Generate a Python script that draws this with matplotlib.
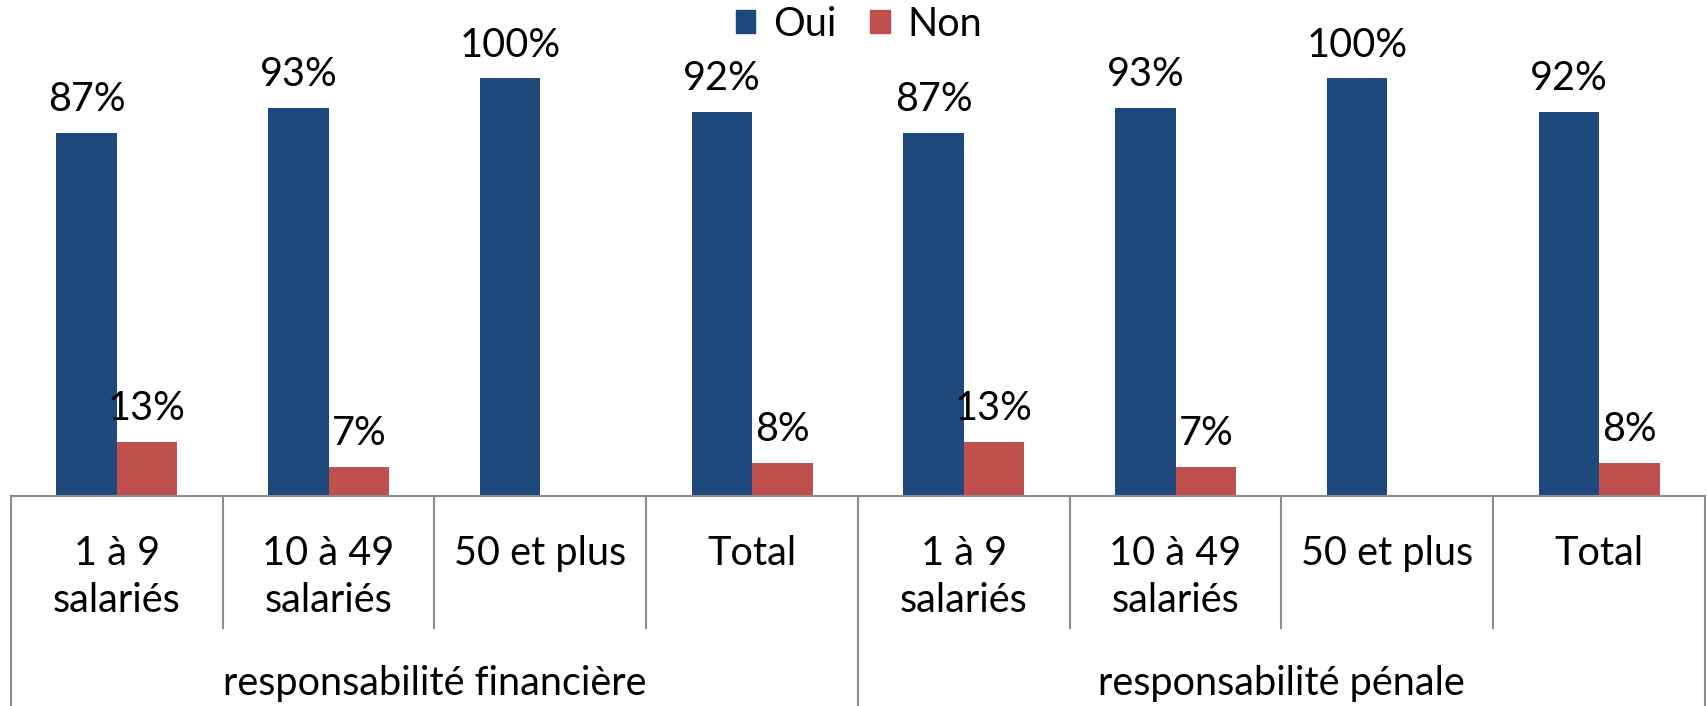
import matplotlib
matplotlib.use("Agg")
import matplotlib.pyplot as plt
import matplotlib.transforms as mtransforms
from matplotlib.patches import Patch
import numpy as np

plt.rcParams['font.family'] = ['Lato', 'DejaVu Sans']

# data
categories = ["1 à 9\nsalariés", "10 à 49\nsalariés", "50 et plus", "Total",
              "1 à 9\nsalariés", "10 à 49\nsalariés", "50 et plus", "Total"]
groups = ["responsabilité financière", "responsabilité pénale"]
oui = [87, 93, 100, 92, 87, 93, 100, 92]
non = [13, 7, 0, 8, 13, 7, 0, 8]

c_oui = '#1F497D'
c_non = '#C0504D'
grid_c = '#8C8C8C'
fs = 28.5

W, H = 1708, 706
fig = plt.figure(figsize=(W / 100, H / 100), dpi=100)
ax_left, ax_right, ax_bot = 11, 1705, 496
ax = fig.add_axes([ax_left / W, 1 - ax_bot / H, (ax_right - ax_left) / W, ax_bot / H])

x = np.arange(len(categories))
w = 0.2857
ax.bar(x - w / 2, oui, w, color=c_oui)
ax.bar(x + w / 2, non, w, color=c_non)

for xi, v in zip(x, oui):
    ax.text(xi - w / 2, v + 3.5, f"{v}%", ha='center', va='bottom', fontsize=fs)
for xi, v in zip(x, non):
    if v > 0:
        ax.text(xi + w / 2, v + 3.5, f"{v}%", ha='center', va='bottom', fontsize=fs)

ax.set_xlim(-0.5, len(categories) - 0.5)
ax.set_ylim(0, 118.8)
ax.axis('off')

# category axis drawn by hand
tr = mtransforms.blended_transform_factory(ax.transData, fig.transFigure)
y_axis = 1 - ax_bot / H
y_mid = 1 - 628 / H
ax.plot([-0.5, len(categories) - 0.5], [y_axis, y_axis], transform=tr,
        color=grid_c, lw=1.5, clip_on=False)
for i in range(len(categories) + 1):
    b = i - 0.5
    y_end = 0 if i % 4 == 0 else y_mid
    ax.plot([b, b], [y_axis, y_end], transform=tr, color=grid_c, lw=1.5, clip_on=False)

for xi, lab in zip(x, categories):
    ax.text(xi, 1 - 535 / H, lab, transform=tr, ha='center', va='top',
            fontsize=fs, linespacing=1.32)
for gi, g in enumerate(groups):
    ax.text(gi * 4 + 1.5, 1 - 684 / H, g, transform=tr, ha='center', va='center', fontsize=fs)

handles = [Patch(color=c_oui, label='Oui'), Patch(color=c_non, label='Non')]
fig.legend(handles=handles, loc='center', bbox_to_anchor=(0.503, 1 - 24 / H), ncol=2,
           frameon=False, fontsize=fs, handlelength=0.5, handleheight=0.5,
           handletextpad=0.45, columnspacing=0.85, borderpad=0)

fig.savefig("out.png", dpi=100)
